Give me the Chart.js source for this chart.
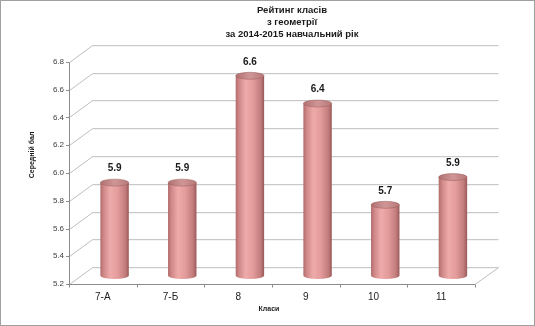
<!DOCTYPE html>
<html><head><meta charset="utf-8">
<script src="https://cdn.jsdelivr.net/npm/chart.js@4.4.1/dist/chart.umd.min.js"></script>
<style>html,body{margin:0;padding:0;background:#fff;overflow:hidden}#wrap{width:535px;height:326px;position:relative}</style>
</head><body><div id="wrap"><canvas id="c" width="535" height="326"></canvas></div>
<script>
const categories = ['7-А', '7-Б', '8', '9', '10', '11'];
const values = [5.87, 5.87, 6.64, 6.44, 5.71, 5.91];
const valueLabels = ['5.9', '5.9', '6.6', '6.4', '5.7', '5.9'];
const yTicks = [5.2, 5.4, 5.6, 5.8, 6.0, 6.2, 6.4, 6.6, 6.8];
const titleLines = ['Рейтинг класів', 'з геометрії', 'за 2014-2015 навчальний рік'];
const yTitle = 'Середній бал';
const xTitle = 'Класи';

const FONT = "'Liberation Sans', Arial, sans-serif";
const DX = 23.5, DY = -16.8;

const plugin3d = {
  id: 'p3d',
  beforeDatasetsDraw(chart) {
    const {ctx, chartArea: a, scales: {x, y}} = chart;
    ctx.save();
    ctx.lineWidth = 1;
    ctx.strokeStyle = '#bdbdbd';
    yTicks.forEach(v => {
      const py = Math.round(y.getPixelForValue(v)) + 0.5;
      ctx.beginPath();
      ctx.moveTo(a.left + 0.5, py);
      ctx.lineTo(a.left + DX, py + DY);
      ctx.lineTo(a.right + DX, py + DY);
      ctx.stroke();
    });
    const bot = Math.round(y.getPixelForValue(yTicks[0])) + 0.5;
    ctx.beginPath();
    ctx.moveTo(a.left, bot);
    ctx.lineTo(a.right, bot);
    ctx.lineTo(a.right + DX, bot + DY);
    ctx.stroke();
    ctx.strokeStyle = '#8c8c8c';
    const top = Math.round(y.getPixelForValue(yTicks[yTicks.length - 1])) + 0.5;
    ctx.beginPath();
    ctx.moveTo(a.left + 0.5, top);
    ctx.lineTo(a.left + 0.5, bot);
    yTicks.forEach(v => {
      const py = Math.round(y.getPixelForValue(v)) + 0.5;
      ctx.moveTo(a.left - 3, py);
      ctx.lineTo(a.left + 0.5, py);
    });
    ctx.moveTo(a.left, bot);
    ctx.lineTo(a.right, bot);
    const n = categories.length;
    for (let i = 0; i <= n; i++) {
      let px;
      if (i === 0) px = a.left;
      else if (i === n) px = a.right;
      else px = (x.getPixelForValue(i - 1) + x.getPixelForValue(i)) / 2;
      px = Math.round(px) + 0.5;
      ctx.moveTo(px, bot);
      ctx.lineTo(px, bot + 3);
    }
    ctx.stroke();
    ctx.restore();
  },
  afterDatasetsDraw(chart) {
    const {ctx, scales: {y}} = chart;
    const meta = chart.getDatasetMeta(0);
    const basePx = y.getPixelForValue(yTicks[0]);
    ctx.save();
    meta.data.forEach((el, i) => {
      const cx = el.x + DX / 2, w = el.width, r = w / 2;
      const left = cx - r, right = cx + r;
      const top = y.getPixelForValue(values[i]) + DY / 2, base = basePx + DY / 2;
      const ry = 3.5;
      const g = ctx.createLinearGradient(left, 0, right, 0);
      g.addColorStop(0, '#b06b6b');
      g.addColorStop(0.12, '#d08888');
      g.addColorStop(0.35, '#eeaaaa');
      g.addColorStop(0.6, '#e49c9c');
      g.addColorStop(0.88, '#c27c7c');
      g.addColorStop(1, '#9a5858');
      ctx.fillStyle = g;
      ctx.beginPath();
      ctx.moveTo(left, top);
      ctx.lineTo(left, base);
      ctx.ellipse(cx, base, r, ry, 0, Math.PI, 0, true);
      ctx.lineTo(right, top);
      ctx.closePath();
      ctx.fill();
      const g2 = ctx.createLinearGradient(left, 0, right, 0);
      g2.addColorStop(0, '#b07070');
      g2.addColorStop(0.5, '#d09696');
      g2.addColorStop(1, '#b87878');
      ctx.fillStyle = g2;
      ctx.beginPath();
      ctx.ellipse(cx, top, r, ry, 0, 0, Math.PI * 2);
      ctx.fill();
      ctx.strokeStyle = 'rgba(150,90,90,0.6)';
      ctx.lineWidth = 0.8;
      ctx.stroke();
      ctx.fillStyle = '#1a1a1a';
      ctx.font = 'bold 10px ' + FONT;
      ctx.textAlign = 'center';
      ctx.textBaseline = 'middle';
      ctx.fillText(valueLabels[i], cx, top - 14);
    });
    ctx.restore();
  },
  afterDraw(chart) {
    const {ctx} = chart;
    ctx.save();
    ctx.fillStyle = '#1a1a1a';
    ctx.textAlign = 'center';
    ctx.textBaseline = 'middle';
    ctx.font = 'bold 9.5px ' + FONT;
    titleLines.forEach((t, i) => ctx.fillText(t, 292, 10.5 + i * 12));
    ctx.font = 'bold 7px ' + FONT;
    ctx.fillText(xTitle, 269, 309);
    ctx.translate(32, 155);
    ctx.rotate(-Math.PI / 2);
    ctx.fillText(yTitle, 0, 0);
    ctx.restore();
    ctx.save();
    ctx.strokeStyle = '#a0a0a0';
    ctx.lineWidth = 1;
    ctx.strokeRect(0.5, 0.5, 534, 325);
    ctx.restore();
  }
};

new Chart(document.getElementById('c'), {
  type: 'bar',
  data: {
    labels: categories,
    datasets: [{
      data: values,
      base: 5.2,
      backgroundColor: 'rgba(0,0,0,0)',
      borderWidth: 0,
      categoryPercentage: 1,
      barPercentage: 0.42
    }]
  },
  options: {
    responsive: false,
    animation: false,
    devicePixelRatio: 1,
    layout: {padding: {left: 0, right: 60, top: 62, bottom: 0}},
    plugins: {legend: {display: false}, tooltip: {enabled: false}, title: {display: false}},
    scales: {
      x: {
        grid: {display: false, drawTicks: false},
        border: {display: false},
        ticks: {padding: 7, font: {family: FONT, size: 10}, color: '#222'},
        afterFit: s => { s.height = 42; }
      },
      y: {
        min: 5.2, max: 6.8,
        afterBuildTicks: s => { s.ticks = yTicks.map(v => ({value: v})); },
        grid: {display: false, drawTicks: false},
        border: {display: false},
        ticks: {padding: 5, font: {family: FONT, size: 8}, color: '#404040', callback: v => Number(v).toFixed(1)},
        afterFit: s => { s.width = 69; }
      }
    }
  },
  plugins: [plugin3d]
});
</script>
</body></html>
